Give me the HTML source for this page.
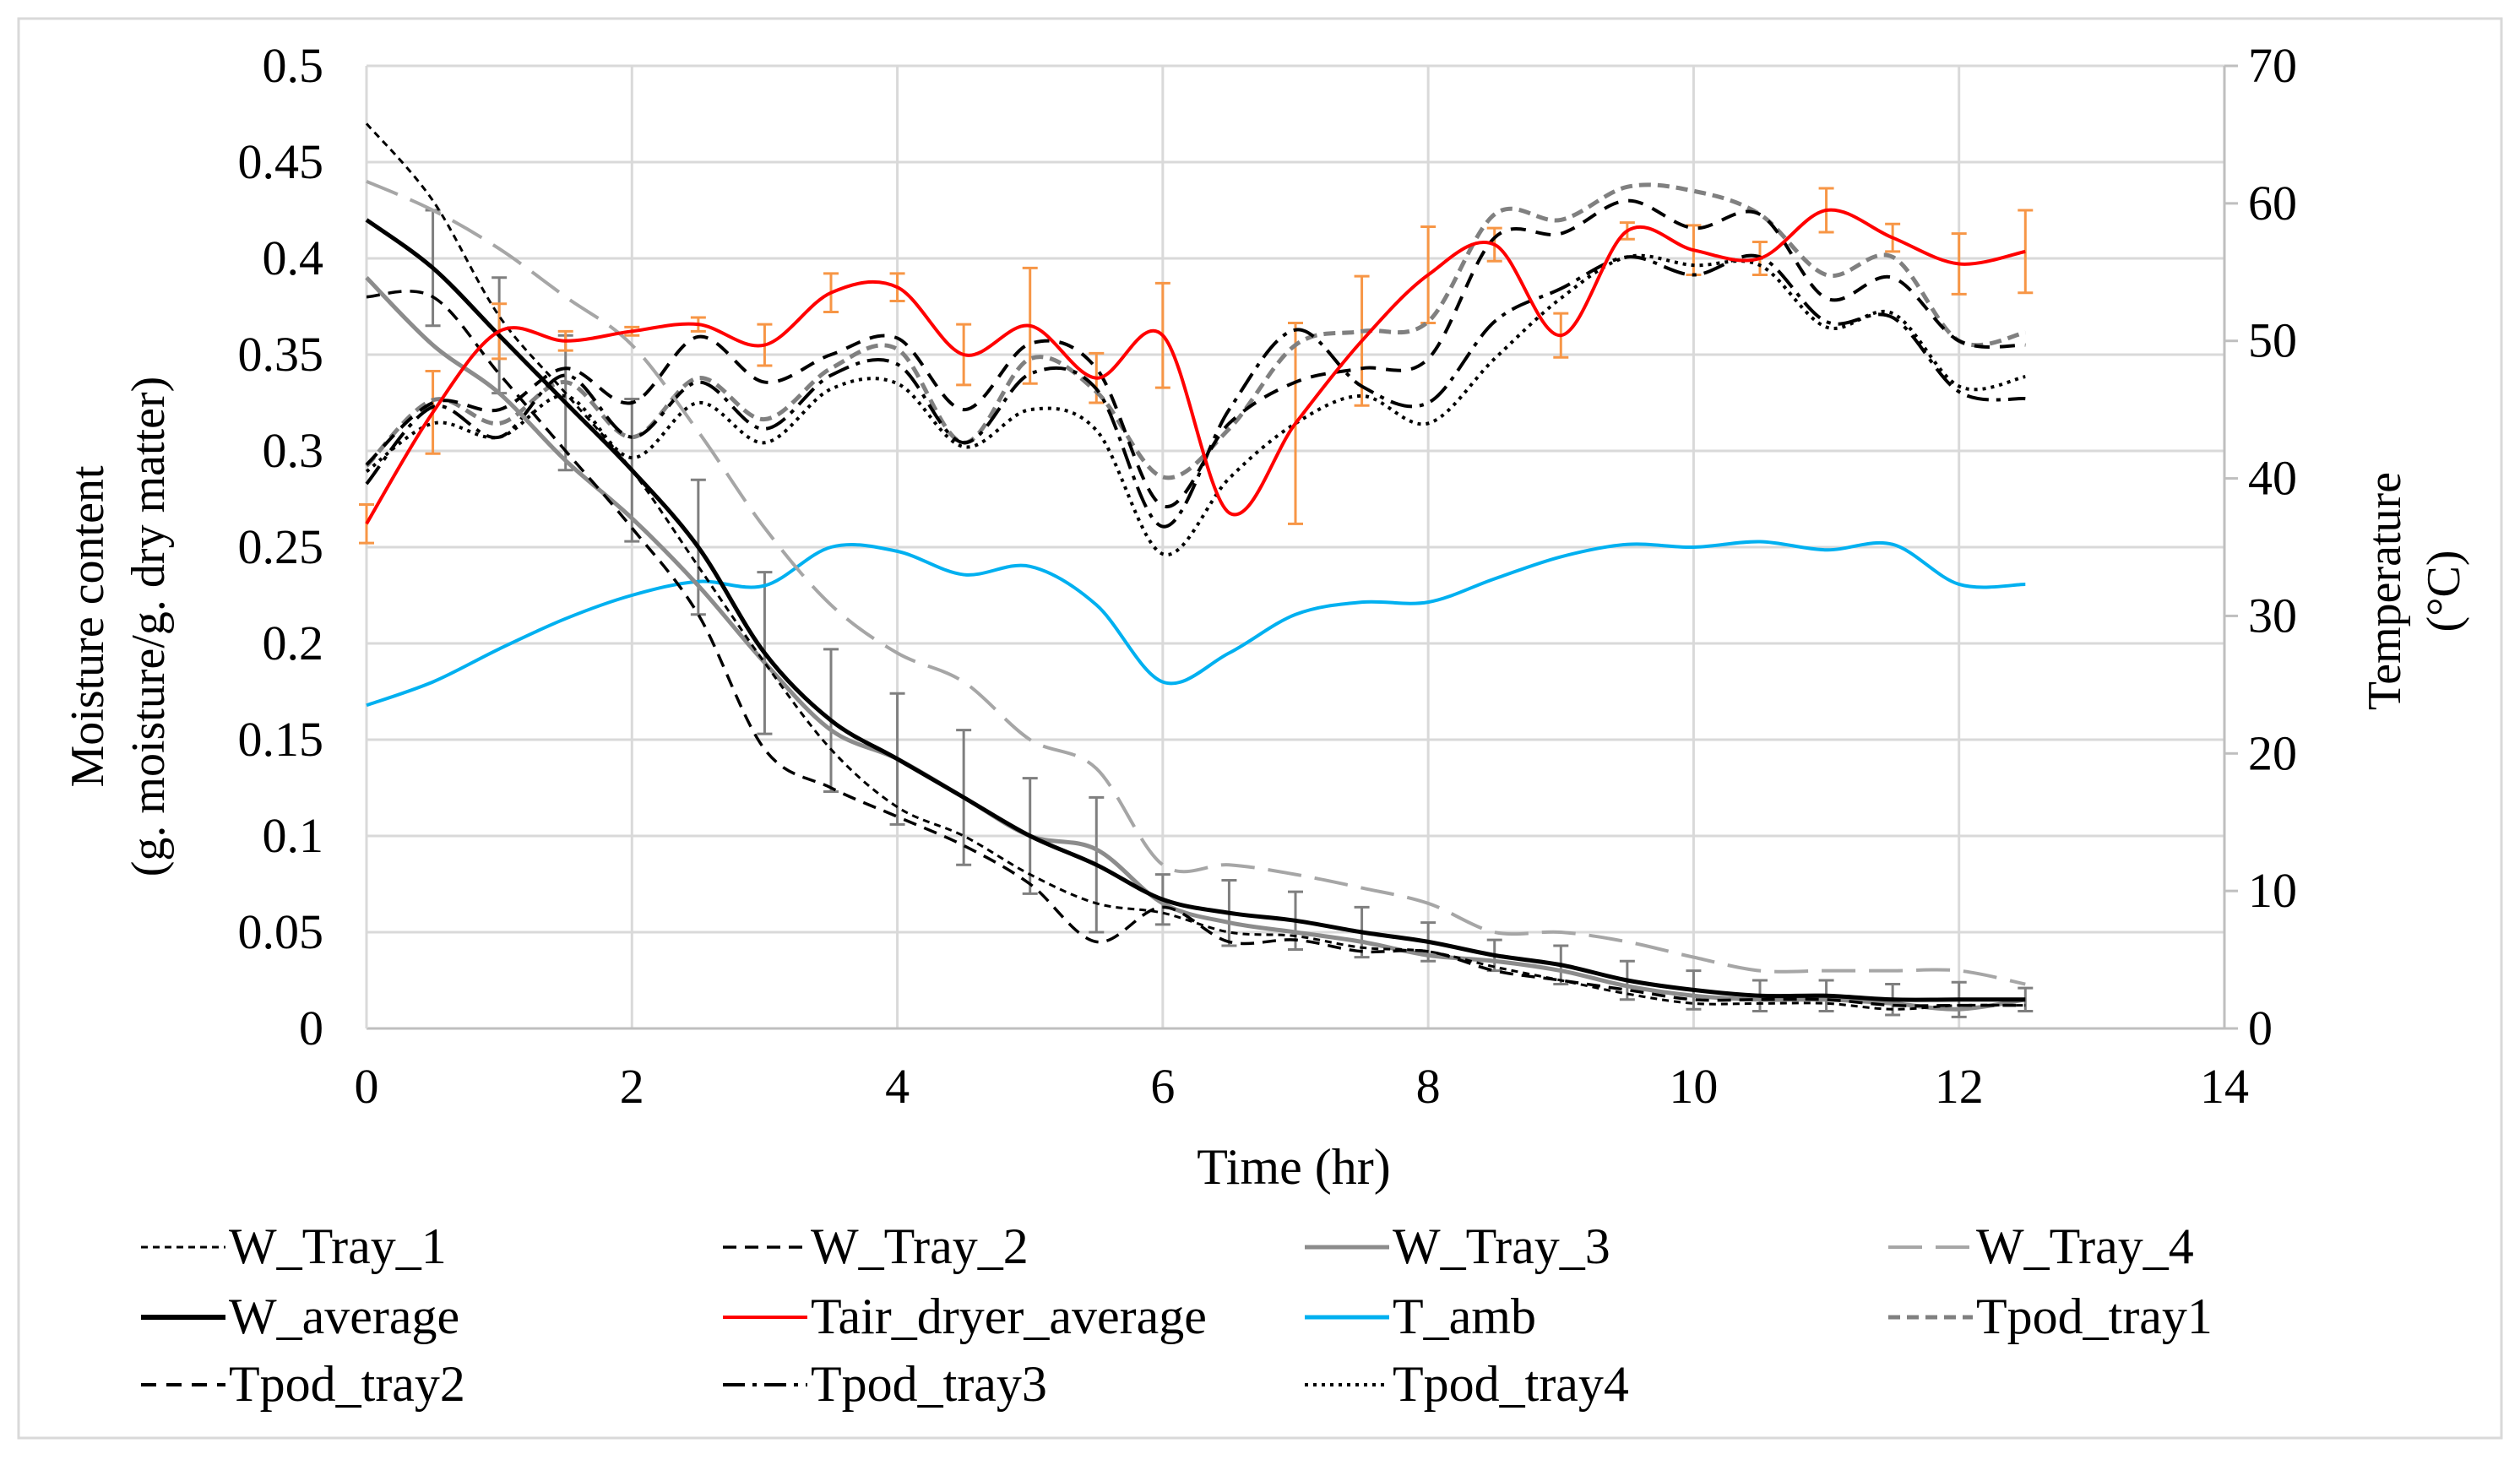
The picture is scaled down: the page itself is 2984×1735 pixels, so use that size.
<!DOCTYPE html>
<html><head><meta charset="utf-8"><style>
html,body{margin:0;padding:0;background:#fff;}
text{font-family:"Liberation Serif","DejaVu Serif","Noto Serif CJK SC",serif;}
</style></head><body>
<svg id="chart" width="2984" height="1730" viewBox="0 0 2984 1730" xmlns="http://www.w3.org/2000/svg">
<rect x="22" y="22" width="2940" height="1681" fill="#fff" stroke="#d9d9d9" stroke-width="3"/>
<g id="grid"></g>
<g id="axes"></g>
<g id="series"></g>
<text x="122" y="742" font-size="56" text-anchor="middle" transform="rotate(-90 122 742)">Moisture content</text>
<text x="194" y="742" font-size="56" text-anchor="middle" transform="rotate(-90 194 742)">(g. moisture/g. dry matter)</text>
<text x="2842" y="700" font-size="56" text-anchor="middle" transform="rotate(-90 2842 700)">Temperature</text>
<text x="2912" y="700" font-size="56" text-anchor="middle" transform="rotate(-90 2912 700)">(°C)</text>
<text x="1532" y="1402" font-size="60" text-anchor="middle">Time (hr)</text>
<g id="legend"></g>
</svg>
<script>
const times=[0,0.5,1,1.5,2,2.5,3,3.5,4,4.5,5,5.5,6,6.5,7,7.5,8,8.5,9,9.5,10,10.5,11,11.5,12,12.5];
const wTray1=[0.47,0.43,0.37,0.33,0.29,0.24,0.19,0.145,0.115,0.1,0.08,0.065,0.06,0.05,0.048,0.042,0.04,0.032,0.025,0.018,0.013,0.013,0.013,0.01,0.012,0.012];
const wTray2=[0.38,0.38,0.34,0.30,0.26,0.215,0.145,0.125,0.11,0.095,0.075,0.045,0.063,0.045,0.046,0.04,0.04,0.03,0.025,0.02,0.015,0.015,0.015,0.012,0.012,0.012];
const wTray3=[0.39,0.355,0.33,0.295,0.265,0.23,0.19,0.155,0.14,0.12,0.1,0.093,0.065,0.055,0.05,0.045,0.038,0.035,0.03,0.022,0.017,0.015,0.015,0.013,0.01,0.015];
const wTray4=[0.44,0.425,0.405,0.38,0.355,0.31,0.26,0.22,0.195,0.18,0.15,0.135,0.085,0.085,0.08,0.073,0.065,0.05,0.05,0.045,0.037,0.03,0.03,0.03,0.03,0.023];
const wAverage=[0.42,0.395,0.36,0.325,0.29,0.25,0.195,0.16,0.14,0.12,0.10,0.085,0.067,0.06,0.056,0.05,0.045,0.038,0.033,0.025,0.02,0.017,0.017,0.015,0.015,0.015];
const wAvgErr=[0,0.03,0.03,0.035,0.037,0.035,0.042,0.037,0.034,0.035,0.03,0.035,0.013,0.017,0.015,0.013,0.01,0.008,0.01,0.01,0.01,0.008,0.008,0.008,0.009,0.006];
const tAir=[36.7,44.8,50.7,50,50.7,51.2,49.7,53.5,53.9,49,51.1,47.3,50.4,37.5,44,50,54.8,57,50.4,58,56.6,56,59.5,57.5,55.6,56.5];
const tAirErr=[1.4,3,2,0.7,0.3,0.5,1.5,1.4,1.0,2.2,4.2,1.8,3.8,0,7.3,4.7,3.5,1.2,1.6,0.6,1.8,1.2,1.6,1.0,2.2,3];
const tAmb=[23.5,25.2,27.6,29.8,31.5,32.5,32.2,35,34.7,33,33.6,30.8,25.2,27.3,30.1,31,31,32.7,34.3,35.2,35,35.4,34.8,35.2,32.3,32.3];
const tPod1=[40.9,45.7,44,47,43,47.3,44.3,48,49.4,42.6,48.7,46.3,40.1,43.6,49.7,50.7,51.4,59.2,58.8,61.2,60.9,59.2,54.8,56.1,50,50.6];
const tPod2=[41,45.5,45,48,45.5,50.3,47,49,50.2,45,49.8,48,38,44,47,48,48.7,57.5,57.8,60.2,58.2,59.2,53.1,54.6,50,49.7];
const tPod3=[39.6,45.2,43,47.5,43,47,43.6,47.5,48.3,42.6,47.6,46.5,36.5,45,50.8,46.7,45.5,51.4,53.8,56.1,54.8,56.1,51.4,51.7,46.3,45.8];
const tPod4=[40.5,44,43,46,41.5,45.5,42.6,46.5,46.9,42.3,45,43.5,34.5,40,44,46,44,48.7,53.1,56.1,55.5,55.5,51,52,46.7,47.4];
const xTicks=[0,2,4,6,8,10,12,14];
const yLeftTicks=[0,0.05,0.1,0.15,0.2,0.25,0.3,0.35,0.4,0.45,0.5];
const yLeftLabels=["0","0.05","0.1","0.15","0.2","0.25","0.3","0.35","0.4","0.45","0.5"];
const yRightTicks=[0,10,20,30,40,50,60,70];

const X0=434,X1=2634,Y0=1218,Y1=78;
const xs=t=>X0+(t/14)*(X1-X0);
const yl=v=>Y0-(v/0.5)*(Y0-Y1);
const yr=v=>Y0-(v/70)*(Y0-Y1);
const NS="http://www.w3.org/2000/svg";
function mk(tag,attrs,parent){const e=document.createElementNS(NS,tag);for(const k in attrs)e.setAttribute(k,attrs[k]);parent.appendChild(e);return e;}
const grid=document.getElementById('grid'),axes=document.getElementById('axes'),series=document.getElementById('series'),legend=document.getElementById('legend');

yLeftTicks.forEach((v,i)=>{
  const l=mk('line',{x1:X0,x2:X1,y1:yl(v),y2:yl(v),stroke:'#d9d9d9','stroke-width':3},grid);
  
  
  const t=mk('text',{x:383,y:yl(v)+19,'font-size':58,'text-anchor':'end'},axes);
  t.textContent=yLeftLabels[i];
  
  
});
xTicks.forEach(v=>{
  const l=mk('line',{x1:xs(v),x2:xs(v),y1:Y1,y2:Y0,stroke:'#d9d9d9','stroke-width':3},grid);
  
  
  const t=mk('text',{x:xs(v),y:Y0+88,'font-size':58,'text-anchor':'middle'},axes);
  t.textContent=String(v);
  
  
});
yRightTicks.forEach(v=>{
  const tk=mk('line',{x1:X1,x2:X1+16,y1:yr(v),y2:yr(v),stroke:'#bfbfbf','stroke-width':3},axes);
  
  
  const t=mk('text',{x:2662,y:yr(v)+19,'font-size':58,'text-anchor':'start'},axes);
  t.textContent=String(v);
  
  
});
const ax1=mk('line',{x1:X0,x2:X1,y1:Y0,y2:Y0,stroke:'#bfbfbf','stroke-width':3},axes);

const ax2=mk('line',{x1:X1,x2:X1,y1:Y1,y2:Y0,stroke:'#bfbfbf','stroke-width':3},axes);

const ax3=mk('line',{x1:X0,x2:X0,y1:Y1,y2:Y0,stroke:'#d9d9d9','stroke-width':3},axes);


function smoothPath(pts){
  let d='M'+pts[0][0]+','+pts[0][1];
  for(let i=0;i<pts.length-1;i++){
    const p0=pts[Math.max(0,i-1)],p1=pts[i],p2=pts[i+1],p3=pts[Math.min(pts.length-1,i+2)];
    const c1x=p1[0]+(p2[0]-p0[0])/6,c1y=p1[1]+(p2[1]-p0[1])/6;
    const c2x=p2[0]-(p3[0]-p1[0])/6,c2y=p2[1]-(p3[1]-p1[1])/6;
    d+=' C'+c1x+','+c1y+' '+c2x+','+c2y+' '+p2[0]+','+p2[1];
  }
  return d;
}
function errBars(vals,errs,yf,color,name){
  vals.forEach((v,i)=>{
    if(!errs[i])return;
    const x=xs(times[i]),a=yf(v-errs[i]),b=yf(v+errs[i]);
    const g=mk('path',{d:`M${x},${a}V${b}M${x-9},${a}H${x+9}M${x-9},${b}H${x+9}`,stroke:color,'stroke-width':3,fill:'none'},series);
    
    
  });
}
const defs=[
 {vals:tPod1,yf:yr,color:'#808080',w:5,dash:'14,8',name:'Tpod_tray1'},
 {vals:tPod2,yf:yr,color:'#000',w:4,dash:'18,12',name:'Tpod_tray2'},
 {vals:tPod3,yf:yr,color:'#000',w:4,dash:'26,9,5,9',name:'Tpod_tray3'},
 {vals:tPod4,yf:yr,color:'#000',w:4,dash:'4,6',name:'Tpod_tray4'},
 {vals:tAmb,yf:yr,color:'#00b0f0',w:4,dash:'',name:'T_amb'},
 {vals:wTray4,yf:yl,color:'#a6a6a6',w:4,dash:'40,16',name:'W_Tray_4'},
 {vals:wTray3,yf:yl,color:'#8c8c8c',w:5,dash:'',name:'W_Tray_3'},
 {vals:wTray1,yf:yl,color:'#000',w:3,dash:'8,6',name:'W_Tray_1'},
 {vals:wTray2,yf:yl,color:'#000',w:3.5,dash:'16,10',name:'W_Tray_2'},
 {vals:wAverage,yf:yl,color:'#000',w:5,dash:'',name:'W_average'},
 {vals:tAir,yf:yr,color:'#ff0000',w:4,dash:'',name:'Tair_dryer_average'}
];
errBars(wAverage,wAvgErr,yl,'#7f7f7f','w-average-error-bar');
errBars(tAir,tAirErr,yr,'#f79646','tair-error-bar');
defs.forEach(s=>{
  const pts=s.vals.map((v,i)=>[xs(times[i]),s.yf(v)]);
  const p=mk('path',{d:smoothPath(pts),fill:'none',stroke:s.color,'stroke-width':s.w,'stroke-dasharray':s.dash||'none'},series);
  
  
});

const legendItems=[
 ['W_Tray_1','#000','8,6',3],['W_Tray_2','#000','16,10',3.5],['W_Tray_3','#8c8c8c','',5],['W_Tray_4','#a6a6a6','40,16',4],
 ['W_average','#000','',6],['Tair_dryer_average','#ff0000','',4],['T_amb','#00b0f0','',5],['Tpod_tray1','#808080','14,8',5],
 ['Tpod_tray2','#000','18,12',4],['Tpod_tray3','#000','26,9,5,9',4],['Tpod_tray4','#000','4,6',4]
];
const colX=[167,856,1545,2236],rowY=[1477,1560,1640];
legendItems.forEach((it,i)=>{
  const c=i%4,r=Math.floor(i/4),x=colX[c],y=rowY[r];
  const g=mk('g',{},legend);
  
  
  mk('line',{x1:x,x2:x+100,y1:y,y2:y,stroke:it[1],'stroke-width':it[3],'stroke-dasharray':it[2]||'none'},g);
  const t=mk('text',{x:x+104,y:y+19,'font-size':60},g);
  t.textContent=it[0];
});
</script>
</body></html>
